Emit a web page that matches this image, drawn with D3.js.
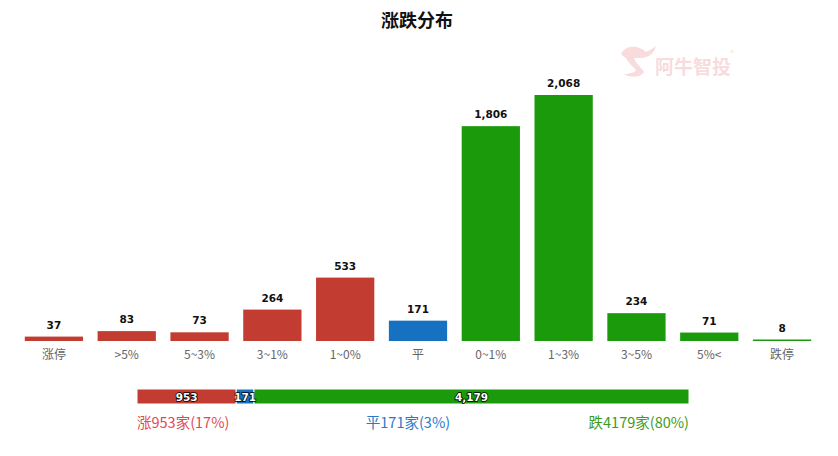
<!DOCTYPE html>
<html><head><meta charset="utf-8">
<script src="https://cdn.jsdelivr.net/npm/d3@7"></script>
<style>body{margin:0;background:#fff;}svg{display:block;font-family:"Noto Sans CJK SC","Microsoft YaHei",sans-serif;}</style>
</head><body><svg id="c" width="838" height="456"></svg>
<script>
const categories = ["涨停", ">5%", "5~3%", "3~1%", "1~0%", "平", "0~1%", "1~3%", "3~5%", "5%<", "跌停"];
const values = [37, 83, 73, 264, 533, 171, 1806, 2068, 234, 71, 8];
const barGroups = ["up","up","up","up","up","flat","down","down","down","down","down"];
const summaryKeys = ["涨", "平", "跌"];
const summaryValues = [953, 171, 4179];
const summaryPct = ["17%", "3%", "80%"];

const colors = {up:"#c23c32", flat:"#1672c0", down:"#1b9b0b"};
const textColors = ["#e04a55", "#2a79c9", "#3c9c22"];
const svg = d3.select("#c");

svg.append("text").attr("x", 417).attr("y", 27).attr("text-anchor","middle")
  .attr("font-size", 18).attr("font-weight","bold").attr("fill","#111").text("涨跌分布");

// watermark
const wm = svg.append("g").attr("opacity", 0.16).attr("fill", "#d9272e");
wm.append("path").attr("d","M622,52 C628,44 640,46 646,52 C650,50 654,48 656,46 C654,54 648,58 640,58 L634,58 C636,64 642,68 644,72 C640,78 630,78 624,74 C630,74 636,72 636,70 C632,66 628,62 626,58 C622,56 620,54 622,52 Z");
wm.append("text").attr("x", 655).attr("y", 74).attr("font-size", 19).attr("font-weight","bold").text("阿牛智投");
wm.append("text").attr("x", 730).attr("y", 56).attr("font-size", 8).text("®");

const baseY = 341;
const x = d3.scaleBand().domain(categories).range([17.5, 818.5]).paddingInner(0.2).paddingOuter(0.1);
const y = d3.scaleLinear().domain([0, 2068]).range([baseY, 95]);

const bars = svg.append("g");
bars.selectAll("rect").data(values).join("rect")
  .attr("x", (d,i)=>x(categories[i]))
  .attr("width", x.bandwidth())
  .attr("y", d=>Math.min(y(d), baseY-1.5))
  .attr("height", d=>Math.max(baseY - y(d), 1.5))
  .attr("fill", (d,i)=>colors[barGroups[i]]);

bars.selectAll("text").data(values).join("text")
  .attr("x", (d,i)=>x(categories[i]) + x.bandwidth()/2)
  .attr("y", d=>Math.min(y(d), baseY-1.5) - 8)
  .attr("text-anchor","middle").attr("font-size", 10.5).attr("font-weight","bold")
  .attr("font-family","'DejaVu Sans', sans-serif").attr("fill","#111")
  .text(d=>d3.format(",")(d));

const ax = svg.append("g").attr("transform",`translate(0,${baseY})`)
  .call(d3.axisBottom(x).tickSize(0).tickPadding(9));
ax.select(".domain").remove();
ax.selectAll("text").attr("font-size", 12).attr("fill","#666")
  .attr("font-family","'Noto Sans CJK SC', sans-serif");

// summary bar
const total = d3.sum(summaryValues);
const sx = d3.scaleLinear().domain([0, total]).range([137, 689]);
let cum = 0;
const segs = summaryValues.map((v,i)=>{const s={k:summaryKeys[i], v, start:cum}; cum+=v; return s;});
const sumColors = [colors.up, colors.flat, colors.down];
const sg = svg.append("g");
sg.selectAll("rect").data(segs).join("rect")
  .attr("x", d=>sx(d.start)).attr("width", d=>sx(d.start+d.v)-sx(d.start))
  .attr("y", 389).attr("height", 15)
  .attr("fill", (d,i)=>sumColors[i]).attr("stroke","#fff").attr("stroke-width",1);
sg.selectAll("text").data(segs).join("text")
  .attr("x", d=>(sx(d.start)+sx(d.start+d.v))/2).attr("y", 400.5)
  .attr("text-anchor","middle").attr("font-size", 10.5).attr("font-weight","bold")
  .attr("font-family","'DejaVu Sans', sans-serif")
  .attr("fill","#fff").attr("stroke","#000").attr("stroke-width",1.6).attr("paint-order","stroke")
  .text(d=>d3.format(",")(d.v));

const legX = [137, 408, 689];
const anchors = ["start","middle","end"];
svg.append("g").selectAll("text").data(summaryValues).join("text")
  .attr("x",(d,i)=>legX[i]).attr("y", 428).attr("text-anchor",(d,i)=>anchors[i])
  .attr("font-size", 14.5).attr("fill",(d,i)=>textColors[i])
  .text((d,i)=>`${summaryKeys[i]}${d}家(${summaryPct[i]})`);
</script></body></html>
